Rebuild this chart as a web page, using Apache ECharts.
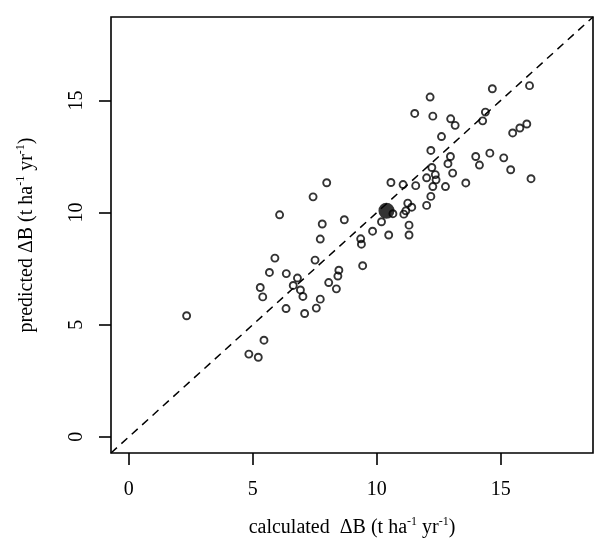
<!DOCTYPE html>
<html>
<head>
<meta charset="utf-8">
<script src="https://cdn.jsdelivr.net/npm/echarts@6/dist/echarts.min.js"></script>
<style>
  html, body { margin: 0; padding: 0; background: #fff; }
  #chart { width: 610px; height: 556px; }
</style>
</head>
<body>
<div id="chart"></div>
<script>
// axis limits and ticks (same on both axes)
var axisMin = -0.72;
var axisMax = 18.72;
var tickValues = [0, 5, 10, 15];

// calculated (x) and predicted (y) values
var calculated = [2.33, 4.84, 5.22, 5.45, 5.30, 5.40, 5.67, 5.89, 6.35, 6.34,
    6.63, 6.80, 6.92, 7.02, 7.09, 7.56, 7.72, 8.06, 8.37, 8.47,
    8.43, 7.51, 9.43, 7.72, 7.80, 6.08, 7.43, 7.98, 8.69, 9.35,
    9.38, 9.83, 10.48, 10.19, 10.65, 11.30, 11.30, 11.09, 11.17, 11.41,
    11.25, 10.57, 11.06, 11.57, 12.01, 12.01, 12.18, 12.26, 12.36, 12.39,
    12.77, 13.06, 13.59, 12.22, 12.18, 12.87, 12.97, 12.61, 13.99, 14.14,
    14.56, 15.12, 15.40, 16.22, 12.26, 12.15, 12.98, 13.16, 14.27, 14.38,
    14.66, 16.16, 15.48, 15.77, 16.05, 11.53];
var predicted = [5.40, 3.69, 3.55, 4.31, 6.66, 6.24, 7.33, 7.97, 7.28, 5.72,
    6.75, 7.08, 6.55, 6.26, 5.50, 5.74, 6.14, 6.88, 6.60, 7.43,
    7.17, 7.88, 7.63, 8.82, 9.49, 9.90, 10.70, 11.33, 9.68, 8.83,
    8.59, 9.17, 9.00, 9.59, 9.95, 9.44, 9.00, 9.93, 10.08, 10.24,
    10.42, 11.34, 11.25, 11.20, 11.55, 10.32, 10.72, 11.16, 11.69, 11.46,
    11.16, 11.76, 11.32, 12.01, 12.77, 12.18, 12.50, 13.39, 12.50, 12.12,
    12.65, 12.44, 11.91, 11.51, 14.30, 15.15, 14.18, 13.89, 14.09, 14.48,
    15.52, 15.66, 13.55, 13.77, 13.95, 14.42];

// mean point (filled)
var meanCalculated = [10.39];
var meanPredicted = [10.08];

var font = 'Liberation Serif';

function pairs(xs, ys) {
    var out = [];
    for (var i = 0; i < xs.length; i++) out.push([xs[i], ys[i]]);
    return out;
}

var titleRich = {
    t: { fontFamily: font, fontSize: 20, color: '#000', lineHeight: 24 },
    s: { fontFamily: font, fontSize: 12, color: '#000', lineHeight: 12, verticalAlign: 'top' }
};

var myChart = echarts.init(document.getElementById('chart'));
var option = {
    animation: false,
    backgroundColor: '#fff',
    grid: {
        left: 111, right: 17, top: 17, bottom: 103,
        show: true, borderColor: '#000', borderWidth: 1.6, backgroundColor: 'transparent'
    },
    xAxis: {
        type: 'value', min: axisMin, max: axisMax, splitNumber: 4,
        splitLine: { show: false },
        axisLine: { show: false, onZero: false },
        axisTick: { show: true, inside: false, length: 12, customValues: tickValues,
            lineStyle: { color: '#000', width: 1.6 } },
        axisLabel: { customValues: tickValues, margin: 27,
            fontFamily: font, fontSize: 20, color: '#000' },
        name: '{t|calculated  ΔB (t ha}{s|-1}{t| yr}{s|-1}{t|)}',
        nameLocation: 'middle', nameGap: 63,
        nameTextStyle: { rich: titleRich }
    },
    yAxis: {
        type: 'value', min: axisMin, max: axisMax, splitNumber: 4,
        splitLine: { show: false },
        axisLine: { show: false, onZero: false },
        axisTick: { show: true, inside: false, length: 12, customValues: tickValues,
            lineStyle: { color: '#000', width: 1.6 } },
        axisLabel: { customValues: tickValues, margin: 24, rotate: 90,
            fontFamily: font, fontSize: 20, color: '#000' },
        name: '{t|predicted ΔB (t ha}{s|-1}{t| yr}{s|-1}{t|)}',
        nameLocation: 'middle', nameGap: 72,
        nameTextStyle: { rich: titleRich }
    },
    series: [
        {
            // 1:1 line
            type: 'line',
            data: [[axisMin, axisMin], [axisMax, axisMax]],
            symbol: 'none',
            silent: true,
            lineStyle: { color: '#000', width: 1.5, type: [8, 6] }
        },
        {
            type: 'scatter',
            data: pairs(calculated, predicted),
            symbol: 'circle',
            symbolSize: 7,
            itemStyle: { color: 'transparent', borderColor: '#000', borderWidth: 1.9 }
        },
        {
            type: 'scatter',
            data: pairs(meanCalculated, meanPredicted),
            symbol: 'circle',
            symbolSize: 16,
            itemStyle: { color: '#000' }
        }
    ]
};
myChart.setOption(option);
</script>
</body>
</html>
